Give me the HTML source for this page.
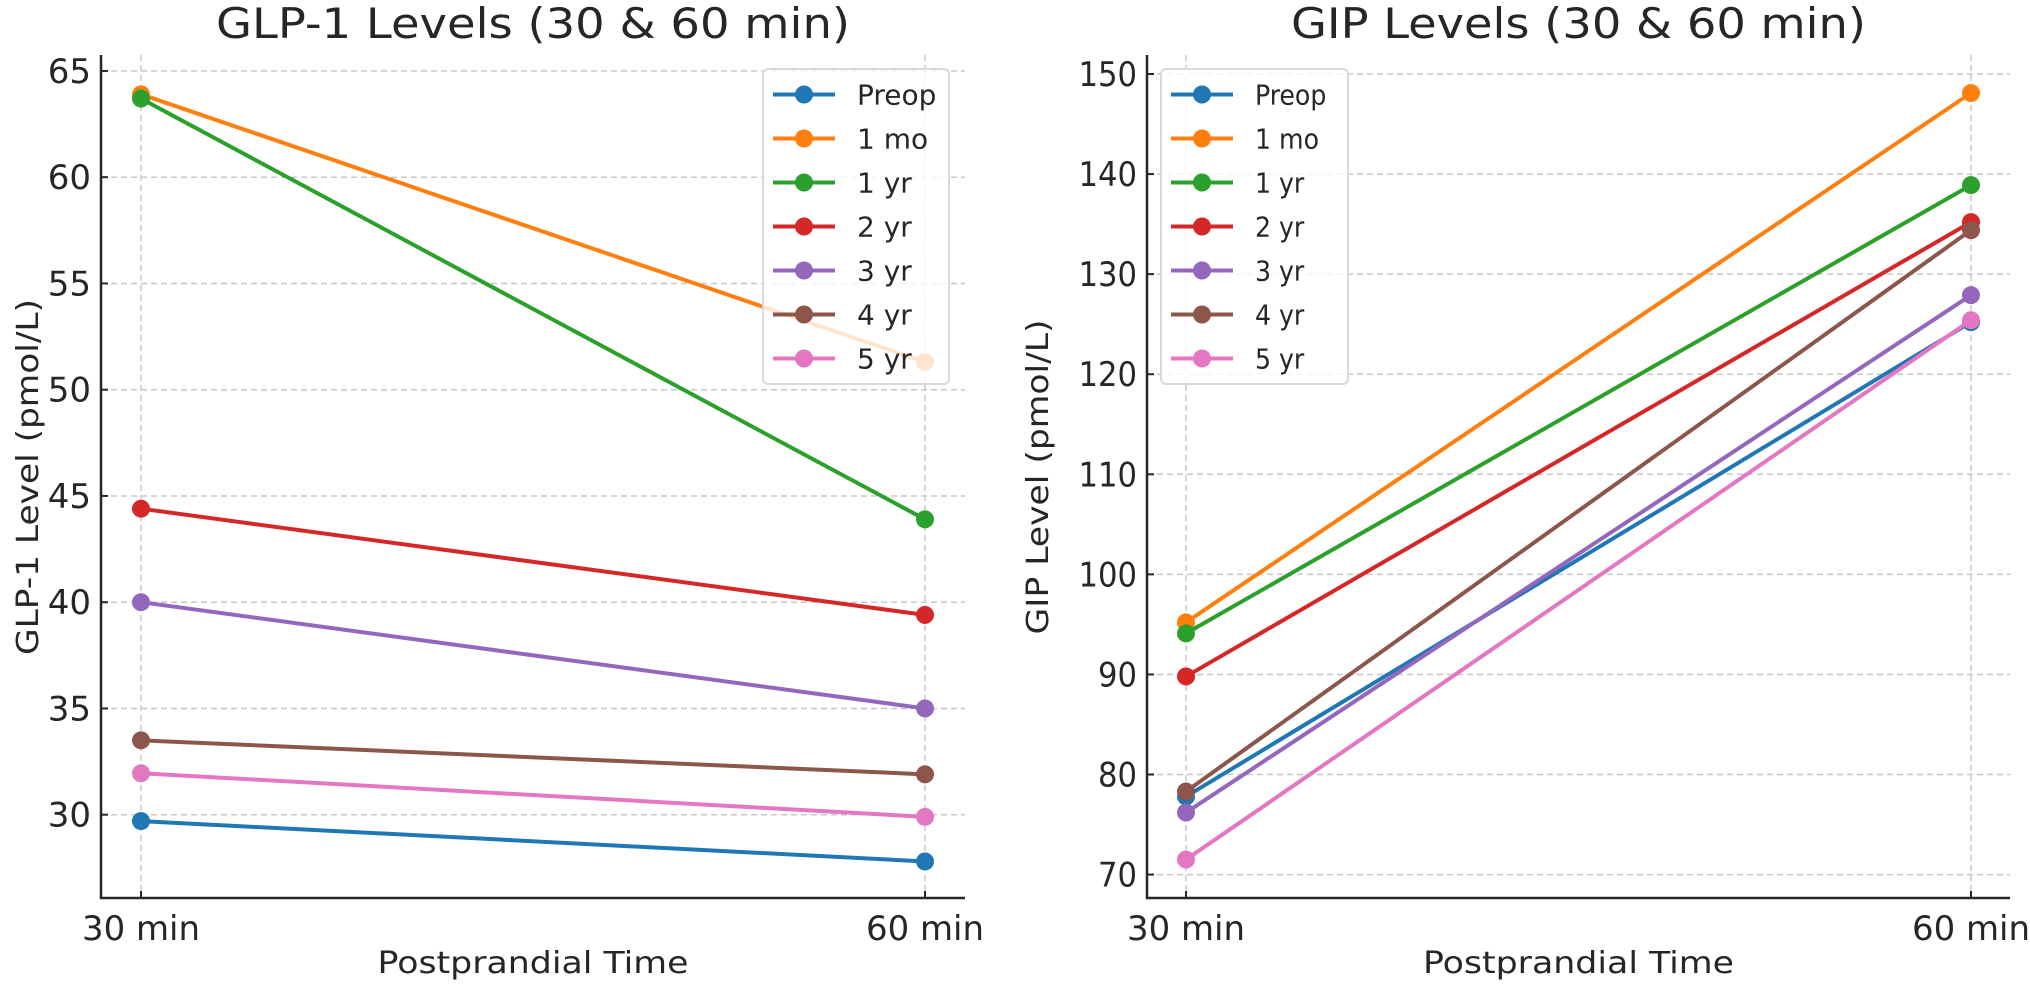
<!DOCTYPE html>
<html><head><meta charset="utf-8"><style>
html,body{margin:0;padding:0;background:#fff;}
svg{display:block;}
text{fill:#262626;font-family:"DejaVu Sans","Liberation Sans",sans-serif;}
.c text{font-family:"DejaVu Sans Condensed","DejaVu Sans","Liberation Sans",sans-serif;font-stretch:condensed;}
</style></head><body>
<svg id="svg" width="2030" height="988" viewBox="0 0 2030 988" xmlns="http://www.w3.org/2000/svg"></svg>
<script>
const seriesNames = ["Preop","1 mo","1 yr","2 yr","3 yr","4 yr","5 yr"];
const colors = ["#1f77b4","#ff7f0e","#2ca02c","#d62728","#9467bd","#8c564b","#e377c2"];
const xCategories = ["30 min","60 min"];
const glp30 = [29.7,63.9,63.7,44.4,40.0,33.5,31.95];
const glp60 = [27.8,51.3,43.9,39.4,35.0,31.9,29.9];
const gip30 = [77.8,95.2,94.1,89.8,76.2,78.3,71.5];
const gip60 = [125.2,148.1,138.9,135.2,127.9,134.4,125.4];
const glpTicks = [30,35,40,45,50,55,60,65];
const gipTicks = [70,80,90,100,110,120,130,140,150];

const NS="http://www.w3.org/2000/svg";
const svg=document.getElementById('svg');
function mk(tag,attrs,parent){const e=document.createElementNS(NS,tag);for(const k in attrs)e.setAttribute(k,attrs[k]);(parent||svg).appendChild(e);return e;}

function panel(cfg){
  const g=mk('g',{class:cfg.cls||''});
  
  
  const {x0,x1,y0,y1,ymin,ymax,xa,xb}=cfg;
  const ys=v=>y1-(v-ymin)/(ymax-ymin)*(y1-y0);
  const xs=i=>xa+(xb-xa)*i;
  cfg.ticks.forEach(t=>{
    const l=mk('line',{x1:x0,x2:x1,y1:ys(t),y2:ys(t),stroke:'#c8c8c8','stroke-width':1.5,'stroke-dasharray':'6,4'},g);
    
    
    const tk=mk('line',{x1:x0,x2:x0+7,y1:ys(t),y2:ys(t),stroke:'#262626','stroke-width':2},g);
    
    
    const ta={x:x0-10,y:ys(t)+12,'text-anchor':'end','font-size':34};
    if(cfg.cond){ta.textLength=String(t).length*19.5;ta.lengthAdjust='spacingAndGlyphs';}
    const tx=mk('text',ta,g);
    tx.textContent=t;
    
    
  });
  xCategories.forEach((c,i)=>{
    const l=mk('line',{x1:xs(i),x2:xs(i),y1:y0,y2:y1,stroke:'#c8c8c8','stroke-width':1.5,'stroke-dasharray':'6,4'},g);
    
    
    const tk=mk('line',{x1:xs(i),x2:xs(i),y1:y1,y2:y1-7,stroke:'#262626','stroke-width':2},g);
    
    
    const tx=mk('text',{x:xs(i),y:y1+42,'text-anchor':'middle','font-size':34,textLength:118,lengthAdjust:'spacingAndGlyphs'},g);
    tx.textContent=c;
    
    
  });
  const sp=mk('path',{d:`M${x0} ${y0}V${y1}H${x1}`,fill:'none',stroke:'#262626','stroke-width':2.5},g);
  
  
  seriesNames.forEach((n,i)=>{
    const a=cfg.d30[i],b=cfg.d60[i];
    const ln=mk('line',{x1:xs(0),y1:ys(a),x2:xs(1),y2:ys(b),stroke:colors[i],'stroke-width':4},g);
    
    
    [[0,a],[1,b]].forEach(([k,v])=>{
      const c=mk('circle',{cx:xs(k),cy:ys(v),r:9,fill:colors[i]},g);
      
      
    });
  });
  const L=cfg.leg;
  const lg=mk('g',{},g);
  
  
  mk('rect',{x:L.x,y:69,width:L.w,height:315,rx:5,fill:'rgba(255,255,255,0.8)',stroke:'#d9d9d9','stroke-width':2},lg);
  seriesNames.forEach((n,i)=>{
    const y=94.5+i*44;
    const e=mk('g',{},lg);
    
    
    mk('line',{x1:L.x+10,x2:L.x+72,y1:y,y2:y,stroke:colors[i],'stroke-width':4},e);
    mk('circle',{cx:L.x+41,cy:y,r:9,fill:colors[i]},e);
    const t=mk('text',{x:L.x+94,y:y+10,'font-size':28},e);
    t.textContent=n;
  });
  const tt=mk('text',{x:(x0+x1)/2,y:38,'text-anchor':'middle','font-size':42,textLength:cfg.tw,lengthAdjust:'spacingAndGlyphs'},g);
  tt.textContent=cfg.title;
  
  
  const xl=mk('text',{x:(x0+x1)/2,y:973,'text-anchor':'middle','font-size':30,textLength:311,lengthAdjust:'spacingAndGlyphs'},g);
  xl.textContent='Postprandial Time';
  
  
  const yl=mk('text',{x:0,y:0,'text-anchor':'middle','font-size':30,textLength:cfg.ylw,lengthAdjust:'spacingAndGlyphs',transform:`translate(${cfg.ylx},477) rotate(-90)`},g);
  yl.textContent=cfg.ylabel;
  
  
}
panel({name:'glp1-panel',x0:101,x1:965,y0:55,y1:898,ymin:26.08,ymax:65.75,xa:141,xb:925,ticks:glpTicks,d30:glp30,d60:glp60,leg:{x:763,w:186},title:'GLP-1 Levels (30 & 60 min)',tw:634,ylabel:'GLP-1 Level (pmol/L)',ylx:38,ylw:356});
panel({name:'gip-panel',cls:'c',cond:true,x0:1147,x1:2010,y0:55,y1:898,ymin:67.66,ymax:151.9,xa:1186,xb:1971,ticks:gipTicks,d30:gip30,d60:gip60,leg:{x:1161,w:187},title:'GIP Levels (30 & 60 min)',tw:575,ylabel:'GIP Level (pmol/L)',ylx:1048,ylw:315});
</script>
</body></html>
